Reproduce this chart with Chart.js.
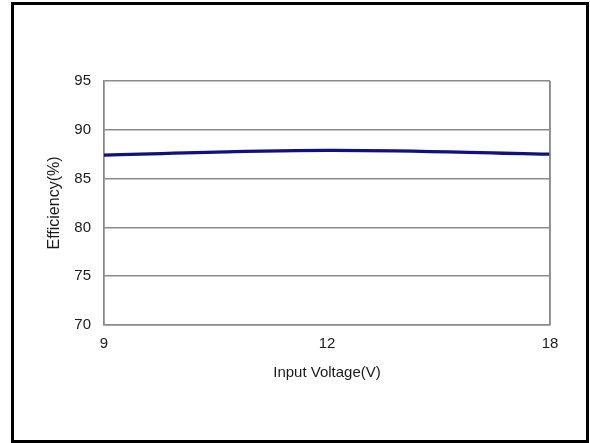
<!DOCTYPE html>
<html>
<head>
<meta charset="utf-8">
<script src="https://cdn.jsdelivr.net/npm/chart.js@4/dist/chart.umd.min.js"></script>
<style>
  html, body { margin: 0; padding: 0; background: #fff; }
  #wrap { width: 590px; height: 443px; position: relative; }
</style>
</head>
<body>
<div id="wrap"><canvas id="c" width="590" height="443"></canvas></div>
<script>
const categories = ['9', '12', '18'];
const efficiency = [87.4, 87.9, 87.5];
const yTicks = [70, 75, 80, 85, 90, 95];
const xTitle = 'Input Voltage(V)';
const yTitle = 'Efficiency(%)';

const frame = {
  id: 'frame',
  afterDraw(chart) {
    const ctx = chart.ctx;
    const a = chart.chartArea;
    ctx.save();
    ctx.strokeStyle = '#8a8a8a';
    ctx.lineWidth = 1.5;
    ctx.beginPath();
    ctx.moveTo(a.right, a.top);
    ctx.lineTo(a.right, a.bottom);
    ctx.stroke();
    ctx.strokeStyle = '#000';
    ctx.lineWidth = 3;
    ctx.strokeRect(12.5, 3.5, 575, 438);
    ctx.restore();
  }
};

new Chart(document.getElementById('c'), {
  type: 'line',
  data: {
    labels: categories,
    datasets: [{
      data: efficiency,
      borderColor: '#10107e',
      borderWidth: 3.2,
      pointRadius: 0,
      tension: 0.4,
      fill: false
    }]
  },
  options: {
    responsive: false,
    animation: false,
    devicePixelRatio: 1,
    layout: { padding: { left: 0, top: 81, right: 40, bottom: 0 } },
    plugins: { legend: { display: false }, tooltip: { enabled: false } },
    scales: {
      x: {
        type: 'category',
        offset: false,
        grid: {
          display: true,
          drawTicks: false,
          color: (c) => (c.index === 1 ? 'rgba(0,0,0,0)' : '#8a8a8a'),
          lineWidth: 1.5
        },
        border: { display: true, color: '#8a8a8a', width: 1.5 },
        ticks: {
          color: '#1a1a1a',
          font: { family: 'Liberation Sans, Arial, sans-serif', size: 15 },
          padding: 10,
          maxRotation: 0
        },
        title: {
          display: true,
          text: xTitle,
          color: '#1a1a1a',
          font: { family: 'Liberation Sans, Arial, sans-serif', size: 15 },
          padding: { top: 0, bottom: 61 }
        },
        afterFit(s) { s.height = 118; }
      },
      y: {
        min: 70,
        max: 95,
        afterBuildTicks(s) { s.ticks = yTicks.map(v => ({ value: v })); },
        grid: {
          drawTicks: false,
          color: '#8a8a8a',
          lineWidth: 1.5
        },
        border: { display: true, color: '#8a8a8a', width: 1.5 },
        ticks: {
          color: '#1a1a1a',
          font: { family: 'Liberation Sans, Arial, sans-serif', size: 15 },
          padding: 13
        },
        title: {
          display: true,
          text: yTitle,
          color: '#1a1a1a',
          font: { family: 'Liberation Sans, Arial, sans-serif', size: 16 },
          padding: { top: 45, bottom: 0 }
        },
        afterFit(s) { s.width = 104; }
      }
    }
  },
  plugins: [frame]
});
</script>
</body>
</html>
